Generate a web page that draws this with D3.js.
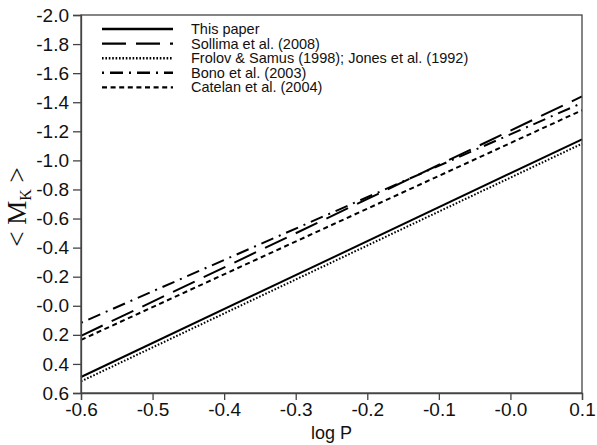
<!DOCTYPE html>
<html lang="en">
<head>
<meta charset="UTF-8">
<title>log P - M_K</title>
<script src="https://cdn.jsdelivr.net/npm/d3@7"></script>
<style>
  body { margin: 0; background: #fff; }
</style>
</head>
<body>
<svg width="597" height="445"></svg>
<script>
// data: each relation drawn between logP = -0.6 and 0.1
var logP = [-0.6, 0.1];
var seriesNames = ["This paper", "Sollima et al. (2008)", "Frolov & Samus (1998); Jones et al. (1992)", "Bono et al. (2003)", "Catelan et al. (2004)"];
var thisPaper = [0.49, -1.145];
var sollima = [0.207, -1.44];
var frolov = [0.52, -1.115];
var bono = [0.117, -1.395];
var catelan = [0.235, -1.345];
var xTicks = [-0.6, -0.5, -0.4, -0.3, -0.2, -0.1, 0, 0.1];
var xTickLabels = ["-0.6", "-0.5", "-0.4", "-0.3", "-0.2", "-0.1", "-0.0", "0.1"];
var yTicks = [-2.0, -1.8, -1.6, -1.4, -1.2, -1.0, -0.8, -0.6, -0.4, -0.2, 0, 0.2, 0.4, 0.6];
var yTickLabels = ["-2.0", "-1.8", "-1.6", "-1.4", "-1.2", "-1.0", "-0.8", "-0.6", "-0.4", "-0.2", "-0.0", "0.2", "0.4", "0.6"];

var dashes = ["none", "24,10", "1.6,1.8", "2,6,13,6", "5,3.6"];
var widths = [2, 2, 2, 2, 2];
var sans = "'Liberation Sans', Arial, sans-serif";

var svg = d3.select("svg");
var margin = {top: 15, right: 15, bottom: 52, left: 81};
var W = 597 - margin.left - margin.right;
var H = 445 - margin.top - margin.bottom;
var g = svg.append("g").attr("transform", "translate(" + margin.left + "," + margin.top + ")");

var x = d3.scaleLinear().domain([-0.6, 0.1]).range([0, W]);
var y = d3.scaleLinear().domain([-2.0, 0.6]).range([0, H]);

var series = [thisPaper, sollima, frolov, bono, catelan];

// lines
var line = d3.line().x(function(d) { return x(d[0]); }).y(function(d) { return y(d[1]); });
series.forEach(function(vals, i) {
    g.append("path")
        .datum(logP.map(function(p, j) { return [p, vals[j]]; }))
        .attr("d", line)
        .attr("fill", "none")
        .attr("stroke", "#000")
        .attr("stroke-width", widths[i])
        .attr("stroke-dasharray", dashes[i]);
});

// frame
g.append("rect").attr("width", W).attr("height", H)
    .attr("fill", "none").attr("stroke", "#444").attr("stroke-width", 1.3);

// axes
var xAxis = d3.axisBottom(x).tickValues(xTicks).tickSize(7).tickPadding(3)
    .tickFormat(function(d, i) { return xTickLabels[i]; });
var yAxis = d3.axisLeft(y).tickValues(yTicks).tickSize(8).tickPadding(4)
    .tickFormat(function(d, i) { return yTickLabels[i]; });

var gx = g.append("g").attr("transform", "translate(0," + H + ")").call(xAxis);
var gy = g.append("g").call(yAxis);
[gx, gy].forEach(function(a) {
    a.attr("font-family", sans);
    a.select(".domain").attr("stroke", "#444").attr("stroke-width", 1.3);
    a.selectAll(".tick line").attr("stroke", "#444").attr("stroke-width", 1.3);
    a.selectAll(".tick text").attr("font-size", 19).attr("fill", "#111");
});

// axis titles
svg.append("text").attr("x", margin.left + W / 2).attr("y", 439)
    .attr("text-anchor", "middle").attr("font-family", sans)
    .attr("font-size", 18).attr("fill", "#111").text("log P");

var yl = svg.append("text")
    .attr("transform", "translate(26,207) rotate(-90)")
    .attr("text-anchor", "middle")
    .attr("font-family", "'Liberation Serif', 'DejaVu Serif', serif")
    .attr("font-size", 27).attr("fill", "#111");
yl.append("tspan").text("< M");
yl.append("tspan").attr("font-size", 16).attr("dy", 5).text("K");
yl.append("tspan").attr("dy", -5).text(" >");

// legend
var lg = g.append("g").attr("transform", "translate(21,14)");
seriesNames.forEach(function(name, i) {
    var row = lg.append("g").attr("transform", "translate(0," + (i * 14.6) + ")");
    row.append("line").attr("x1", 0).attr("x2", 71).attr("y1", 0).attr("y2", 0)
        .attr("stroke", "#000").attr("stroke-width", widths[i] + 0.4)
        .attr("stroke-dasharray", dashes[i]);
    row.append("text").attr("x", 89).attr("y", 5).attr("font-family", sans)
        .attr("font-size", 14.5).attr("fill", "#111").text(name);
});
</script>
</body>
</html>
